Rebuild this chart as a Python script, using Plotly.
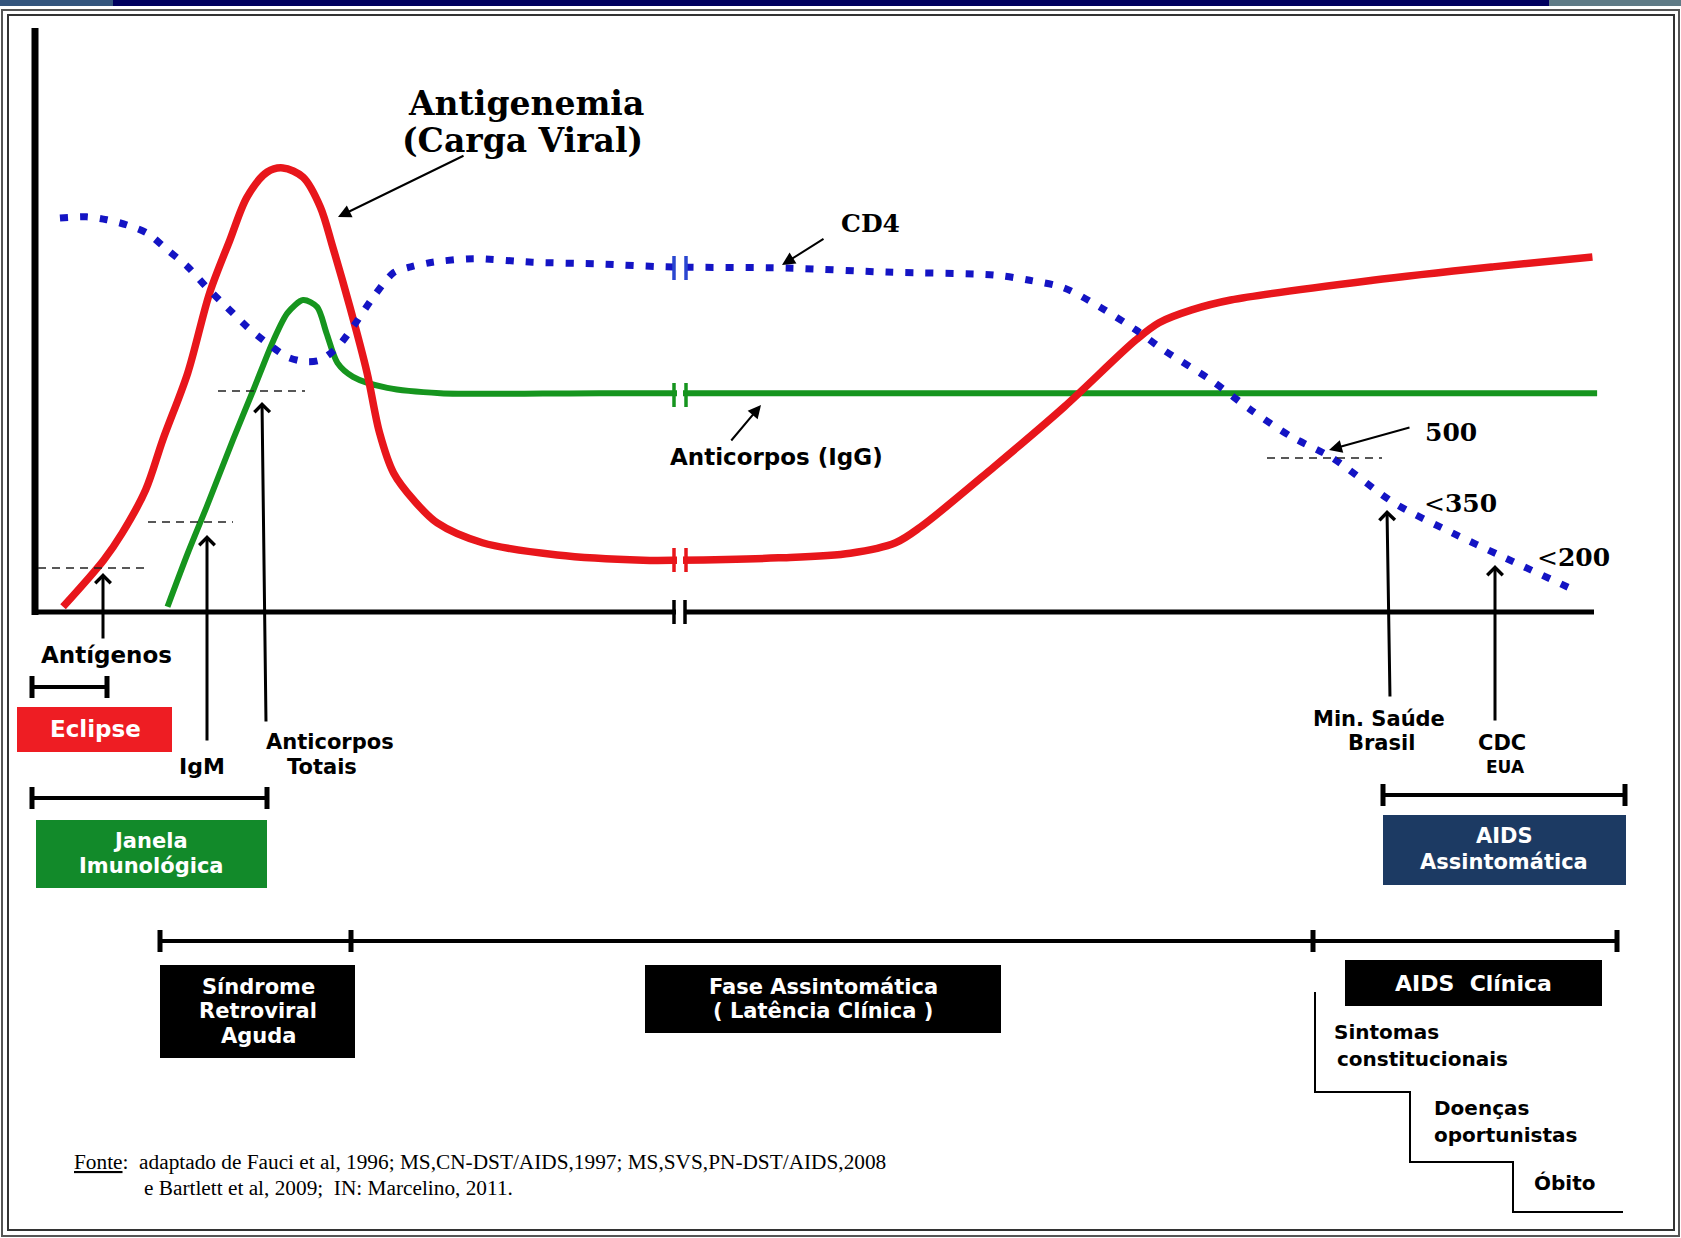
import plotly.graph_objects as go

# ---------------- data (time in arbitrary units 0-100, level 0-100) ----------------
carga_t = [1.8, 4.4, 5.6, 7.1, 8.2, 9.8, 11.2, 12.5, 13.6, 14.9, 15.9, 17.2, 18.3, 19.1, 20.2, 21.3,
           22.1, 23.0, 24.3, 25.8, 28.7, 33.5, 39.0, 41.3, 47.7, 52.3, 55.2, 56.8, 61.5, 66.0,
           70.6, 72.1, 74.2, 76.7, 85.8, 93.5, 99.9]
carga_v = [0.9, 8.9, 13.6, 21.0, 29.6, 41.1, 54.8, 63.9, 71.3, 75.6, 76.3, 74.7, 69.6, 62.7, 52.4, 41.1,
           30.8, 23.9, 19.2, 15.3, 11.9, 9.8, 8.9, 8.9, 9.3, 10.1, 11.9, 14.6, 24.9, 35.2,
           46.7, 49.7, 51.9, 53.6, 57.0, 59.3, 61.0]

igg_t = [8.5, 9.8, 11.0, 12.7, 14.0, 15.3, 16.2, 17.2, 18.1, 18.7, 19.4, 20.4, 22.6, 26.0, 36.2, 60.0, 100.2]
igg_v = [0.9, 10.1, 18.0, 29.6, 38.1, 46.7, 51.4, 53.6, 52.4, 47.9, 42.8, 40.4, 38.5, 37.6, 37.6, 37.6, 37.6]

cd4_t = [1.6, 3.3, 4.6, 5.9, 7.2, 8.5, 9.8, 11.0, 12.3, 13.6, 14.9, 16.2, 17.4, 18.3, 19.4, 20.4,
         21.7, 23.0, 24.1, 25.5, 28.1, 31.9, 36.2, 40.5, 48.2, 54.6, 61.5, 63.8, 66.0, 68.3,
         70.6, 72.4, 75.4, 78.0, 80.6, 83.2, 87.2, 90.9, 93.9, 98.7]
cd4_v = [67.7, 67.9, 67.4, 66.5, 65.1, 62.2, 59.3, 55.8, 52.4, 49.0, 46.2, 43.8, 43.0, 43.3, 45.5, 49.0,
         54.1, 58.3, 59.3, 60.1, 60.7, 60.1, 59.8, 59.3, 59.1, 58.4, 57.9, 57.0, 55.7, 52.4,
         48.5, 45.0, 39.9, 34.7, 30.1, 26.5, 18.7, 13.6, 9.8, 3.8]

# ---------------- geometry helpers (picture pixels -> chart units) ----------------
W, H = 1681, 1238
AX_X0, AX_X1 = 35, 1594      # x pixel of t=0 and t=100
AX_Y0, AX_Y1 = 612, 30       # y pixel of v=0 and v=100


def X(px):
    return (px - AX_X0) / (AX_X1 - AX_X0) * 100


def Y(py):
    return (AX_Y0 - py) / (AX_Y0 - AX_Y1) * 100


RED = "#e8161b"
GREEN = "#16951e"
BLUE = "#1414c4"
SANS = "DejaVu Sans, Verdana, sans-serif"
SERIF = "DejaVu Serif, Liberation Serif, serif"
TIMES = "Liberation Serif, Times New Roman, serif"

fig = go.Figure()

fig.add_trace(go.Scatter(x=igg_t, y=igg_v, mode="lines",
                         line=dict(color=GREEN, width=6, shape="spline", smoothing=0.8),
                         hoverinfo="skip"))
fig.add_trace(go.Scatter(x=carga_t, y=carga_v, mode="lines",
                         line=dict(color=RED, width=7.5, shape="spline", smoothing=0.9),
                         hoverinfo="skip"))
fig.add_trace(go.Scatter(x=cd4_t, y=cd4_v, mode="lines",
                         line=dict(color=BLUE, width=7, shape="spline", smoothing=0.8, dash="8px,12px"),
                         hoverinfo="skip"))

shapes = []


def line(x0, y0, x1, y1, color="black", width=2, dash=None):
    d = dict(color=color, width=width)
    if dash:
        d["dash"] = dash
    shapes.append(dict(type="line", xref="x", yref="y", x0=X(x0), y0=Y(y0), x1=X(x1), y1=Y(y1), line=d))


def rect(x0, y0, x1, y1, fill, lw=0, lc=None):
    shapes.append(dict(type="rect", xref="x", yref="y", x0=X(x0), y0=Y(y0), x1=X(x1), y1=Y(y1),
                       fillcolor=fill, line=dict(width=lw, color=lc or fill)))


# top colour bar
rect(0, 0, 113, 6, "#34557d")
rect(113, 0, 1549, 6, "#00005e")
rect(1549, 0, W, 6, "#5f7b86")
# double frame
rect(2, 10, 1679, 1236, "rgba(0,0,0,0)", 2, "#555555")
rect(8, 15, 1674, 1230, "rgba(0,0,0,0)", 2, "#333333")

# axes
line(35, 28, 35, 615, width=7)
line(32, 612, 1594, 612, width=5)
# axis break
rect(676, 604, 684, 620, "white")
line(674, 600, 674, 624, width=3.5)
line(685, 600, 685, 624, width=3.5)

# curve breaks
for yc, col in [(560, RED), (395, GREEN), (268, "#2a46d0")]:
    rect(677, yc - 8, 683, yc + 8, "white")
    line(674, yc - 12, 674, yc + 12, color=col, width=3.5)
    line(686, yc - 12, 686, yc + 12, color=col, width=3.5)

# dashed threshold lines
for x0, x1, yy in [(38, 150, 568), (148, 233, 522), (218, 305, 391), (1267, 1382, 458)]:
    line(x0, yy, x1, yy, color="#222222", width=1.6, dash="8px,6px")


def interval(x0, x1, yy, h=11, ticks=()):
    line(x0, yy, x1, yy, width=4)
    for xx in (x0, x1) + tuple(ticks):
        line(xx, yy - h, xx, yy + h, width=5)


interval(32, 107, 687)
interval(32, 267, 798)
interval(1383, 1625, 795)
interval(160, 1617, 941, ticks=(351, 1313))

# coloured boxes
rect(17, 707, 172, 752, "#ee1d23")
rect(36, 820, 267, 888, "#128a2a")
rect(1383, 815, 1626, 885, "#1c3a63")
rect(160, 965, 355, 1058, "black")
rect(645, 965, 1001, 1033, "black")
rect(1345, 960, 1602, 1006, "black")

# staircase
shapes.append(dict(type="path", xref="x", yref="y",
                   path="M{},{} V{} H{} V{} H{} V{} H{}".format(
                       X(1315), Y(992), Y(1092), X(1410), Y(1162), X(1513), Y(1212), X(1623)),
                   line=dict(color="black", width=2)))

ann = []


def text(s, x, y, size=23, color="black", family=SANS, xanchor="center"):
    ann.append(dict(text=s, x=X(x), y=Y(y), xref="x", yref="y", showarrow=False,
                    xanchor=xanchor, yanchor="middle",
                    font=dict(family=family, size=size, color=color)))


def arrow(tx, ty, hx, hy, width=3, head=4, size=1.0):
    ann.append(dict(text="", x=X(hx), y=Y(hy), xref="x", yref="y", showarrow=True,
                    ax=tx - hx, ay=ty - hy, axref="pixel", ayref="pixel",
                    arrowhead=head, arrowsize=size, arrowwidth=width, arrowcolor="black",
                    standoff=0, startstandoff=0))


text("<b>Antigenemia</b>", 526, 103, 33, family=SERIF)
text("<b>(Carga Viral)</b>", 522, 140, 33, family=SERIF)
text("<b>CD4</b>", 870, 223, 25, family=SERIF)
text("<b>500</b>", 1451, 432, 25, family=SERIF)
text("&lt;<b>350</b>", 1460, 503, 25, family=SERIF)
text("&lt;<b>200</b>", 1573, 557, 25, family=SERIF)
text("<b>Anticorpos (IgG)</b>", 776, 457, 23)
text("<b>Antígenos</b>", 106, 655, 23)
text("<b>Eclipse</b>", 95, 729, 23, color="white")
text("<b>IgM</b>", 202, 766, 22)
text("<b>Anticorpos</b>", 330, 742, 21)
text("<b>Totais</b>", 322, 767, 21)
text("<b>Janela</b>", 150, 841, 21, color="white")
text("<b>Imunológica</b>", 151, 866, 21, color="white")
text("<b>Min. Saúde</b>", 1379, 719, 21)
text("<b>Brasil</b>", 1381, 743, 21)
text("<b>CDC</b>", 1502, 743, 21)
text("<b>EUA</b>", 1505, 767, 17)
text("<b>AIDS</b>", 1504, 836, 21, color="white")
text("<b>Assintomática</b>", 1504, 862, 21, color="white")
text("<b>Síndrome</b>", 258, 987, 21, color="white")
text("<b>Retroviral</b>", 258, 1011, 21, color="white")
text("<b>Aguda</b>", 258, 1036, 21, color="white")
text("<b>Fase Assintomática</b>", 823, 987, 21, color="white")
text("<b>( Latência Clínica )</b>", 823, 1011, 21, color="white")
text("<b>AIDS  Clínica</b>", 1473, 983, 22, color="white")
text("<b>Sintomas</b>", 1332, 1032, 20, xanchor="left")
text("<b>constitucionais</b>", 1335, 1059, 20, xanchor="left")
text("<b>Doenças</b>", 1432, 1108, 20, xanchor="left")
text("<b>oportunistas</b>", 1432, 1135, 20, xanchor="left")
text("<b>Óbito</b>", 1532, 1183, 20, xanchor="left")
text("<u>Fonte</u>:  adaptado de Fauci et al, 1996; MS,CN-DST/AIDS,1997; MS,SVS,PN-DST/AIDS,2008",
     72, 1162, 21.3, family=TIMES, xanchor="left")
text("e Bartlett et al, 2009;  IN: Marcelino, 2011.", 142, 1188, 21.3, family=TIMES, xanchor="left")

arrow(103, 640, 103, 573)
arrow(207, 742, 207, 535)
arrow(266, 723, 262, 402)
arrow(1390, 698, 1387, 510)
arrow(1495, 722, 1495, 565)
arrow(465, 155, 338, 217, width=2, head=2, size=1.3)
arrow(825, 238, 782, 265, width=2, head=2, size=1.3)
arrow(730, 442, 761, 405, width=2, head=2, size=1.3)
arrow(1411, 427, 1329, 450, width=2, head=2, size=1.3)

fig.update_layout(
    width=W, height=H, margin=dict(l=0, r=0, t=0, b=0),
    paper_bgcolor="white", plot_bgcolor="white", showlegend=False,
    xaxis=dict(range=[X(0), X(W)], visible=False, fixedrange=True),
    yaxis=dict(range=[Y(H), Y(0)], visible=False, fixedrange=True),
    shapes=shapes, annotations=ann, hovermode=False,
)

fig.write_html("out.html", config={"displayModeBar": False, "staticPlot": True},
               post_script="document.body.style.margin='0';document.body.style.overflow='hidden';")
